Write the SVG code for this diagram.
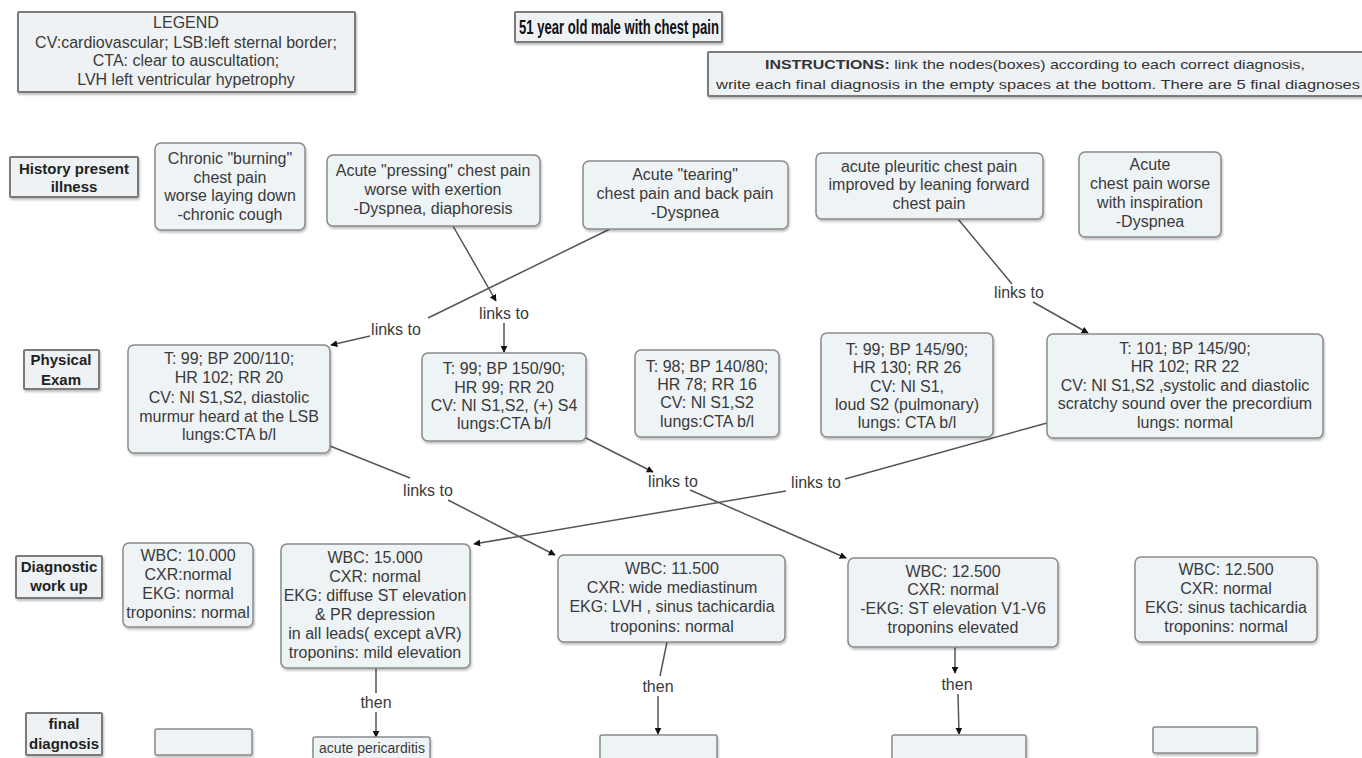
<svg xmlns="http://www.w3.org/2000/svg" width="1362" height="758" viewBox="0 0 1362 758">
<defs>
<filter id="sh" x="-10%" y="-10%" width="130%" height="140%"><feDropShadow dx="1" dy="2" stdDeviation="1.2" flood-color="#000" flood-opacity="0.25"/></filter>
<marker id="ah" viewBox="0 0 10 10" refX="9" refY="5" markerWidth="7" markerHeight="7" orient="auto" markerUnits="userSpaceOnUse"><path d="M0,0 L10,5 L0,10 z" fill="#111"/></marker>
</defs>
<style>
.n{fill:#eef3f6;stroke:#8a8a8a;stroke-width:1.5;filter:url(#sh)}
.r{fill:#eef2f4;stroke:#7a7a7a;stroke-width:2;filter:url(#sh)}
.t{font-family:"Liberation Sans",Arial,sans-serif;font-size:16px;fill:#3a3a3a;text-anchor:middle}
.b{font-family:"Liberation Sans",Arial,sans-serif;font-size:15px;font-weight:bold;fill:#222;text-anchor:middle}
.c{fill:none;stroke:#555;stroke-width:1.5}
.a{marker-end:url(#ah)}
.l{font-family:"Liberation Sans",Arial,sans-serif;font-size:16px;fill:#3a3a3a;text-anchor:middle}
</style>
<rect width="1362" height="758" fill="#fff"/>

<g id="legend">
<rect class="r" x="18" y="12" width="337" height="80" rx="1"/>
<text class="t" x="186" y="28">LEGEND</text>
<text class="t" x="186" y="48">CV:cardiovascular; LSB:left sternal border;</text>
<text class="t" x="186" y="66">CTA: clear to auscultation;</text>
<text class="t" x="186" y="85">LVH left ventricular hypetrophy</text>
</g>

<g id="title">
<rect class="r" x="515" y="12" width="207" height="30" rx="1"/>
<text x="519" y="34" textLength="200" lengthAdjust="spacingAndGlyphs" style="font-family:'Liberation Sans',Arial,sans-serif;font-size:20px;font-weight:bold;fill:#111">51 year old male with chest pain</text>
</g>

<g id="instructions">
<rect class="r" x="708" y="52" width="660" height="44" rx="1"/>
<text x="765" y="69" textLength="540" lengthAdjust="spacingAndGlyphs" style="font-family:'Liberation Sans',Arial,sans-serif;font-size:13px;fill:#333"><tspan font-weight="bold">INSTRUCTIONS:</tspan> link the nodes(boxes) according to each correct diagnosis,</text>
<text x="716" y="89" textLength="644" lengthAdjust="spacingAndGlyphs" style="font-family:'Liberation Sans',Arial,sans-serif;font-size:13px;fill:#333">write each final diagnosis in the empty spaces at the bottom. There are 5 final diagnoses</text>
</g>

<g id="row-hpi">
<rect class="r" x="10" y="157" width="128" height="40" rx="1"/>
<text class="b" x="74" y="174">History present</text>
<text class="b" x="74" y="192">illness</text>
</g>
<g id="row-pe">
<rect class="r" x="24" y="350" width="75" height="39" rx="1"/>
<text class="b" x="61" y="365">Physical</text>
<text class="b" x="61" y="385">Exam</text>
</g>
<g id="row-dx">
<rect class="r" x="16" y="556" width="86" height="42" rx="1"/>
<text class="b" x="59" y="572">Diagnostic</text>
<text class="b" x="59" y="591">work up</text>
</g>
<g id="row-final">
<rect class="r" x="26" y="713" width="76" height="42" rx="1"/>
<text class="b" x="64" y="729">final</text>
<text class="b" x="64" y="749">diagnosis</text>
</g>

<g id="connectors">
<path class="c a" d="M453,226 L496,301"/>
<text class="l" x="504" y="319">links to</text>
<path class="c a" d="M504,323 L504,352"/>

<path class="c" d="M610,229 L428,318"/>
<text class="l" x="396" y="335">links to</text>
<path class="c a" d="M370,336 L331,345"/>

<path class="c" d="M958,219 L1012,284"/>
<text class="l" x="1019" y="298">links to</text>
<path class="c a" d="M1033,302 L1088,333"/>

<path class="c" d="M330,446 L410,478"/>
<text class="l" x="428" y="496">links to</text>
<path class="c a" d="M448,500 L555,555"/>

<path class="c a" d="M586,438 L653,472"/>
<text class="l" x="673" y="487">links to</text>
<path class="c a" d="M690,490 L846,558"/>

<path class="c" d="M1047,423 L845,479"/>
<text class="l" x="816" y="488">links to</text>
<path class="c a" d="M786,491 L474,544"/>

<path class="c" d="M376,668 L376,693"/>
<text class="l" x="376" y="708">then</text>
<path class="c a" d="M376,712 L376,737"/>

<path class="c" d="M667,642 L660,676"/>
<text class="l" x="658" y="692">then</text>
<path class="c a" d="M658,696 L658,734"/>

<path class="c a" d="M955,647 L955,673"/>
<text class="l" x="957" y="690">then</text>
<path class="c a" d="M958,694 L959,734"/>
</g>

<g id="hpi1">
<rect class="n" x="155" y="143" width="150" height="87" rx="6"/>
<text class="t" x="230" y="164">Chronic "burning"</text>
<text class="t" x="230" y="183">chest pain</text>
<text class="t" x="230" y="201">worse laying down</text>
<text class="t" x="230" y="220">-chronic cough</text>
</g>
<g id="hpi2">
<rect class="n" x="327" y="155" width="213" height="71" rx="6"/>
<text class="t" x="433" y="176">Acute "pressing" chest pain</text>
<text class="t" x="433" y="195">worse with exertion</text>
<text class="t" x="433" y="214">-Dyspnea, diaphoresis</text>
</g>
<g id="hpi3">
<rect class="n" x="583" y="161" width="205" height="68" rx="6"/>
<text class="t" x="685" y="180">Acute "tearing"</text>
<text class="t" x="685" y="199">chest pain and back pain</text>
<text class="t" x="685" y="218">-Dyspnea</text>
</g>
<g id="hpi4">
<rect class="n" x="816" y="153" width="227" height="66" rx="6"/>
<text class="t" x="929" y="172">acute pleuritic chest pain</text>
<text class="t" x="929" y="190">improved by leaning forward</text>
<text class="t" x="929" y="209">chest pain</text>
</g>
<g id="hpi5">
<rect class="n" x="1079" y="152" width="142" height="85" rx="6"/>
<text class="t" x="1150" y="170">Acute</text>
<text class="t" x="1150" y="189">chest pain worse</text>
<text class="t" x="1150" y="208">with inspiration</text>
<text class="t" x="1150" y="227">-Dyspnea</text>
</g>

<g id="pe1">
<rect class="n" x="128" y="345" width="202" height="108" rx="6"/>
<text class="t" x="229" y="364">T: 99; BP 200/110;</text>
<text class="t" x="229" y="383">HR 102; RR 20</text>
<text class="t" x="229" y="403">CV: Nl S1,S2, diastolic</text>
<text class="t" x="229" y="422">murmur heard at the LSB</text>
<text class="t" x="229" y="440">lungs:CTA b/l</text>
</g>
<g id="pe2">
<rect class="n" x="422" y="353" width="164" height="88" rx="6"/>
<text class="t" x="504" y="374">T: 99; BP 150/90;</text>
<text class="t" x="504" y="393">HR 99; RR 20</text>
<text class="t" x="504" y="411">CV: Nl S1,S2, (+) S4</text>
<text class="t" x="504" y="429">lungs:CTA b/l</text>
</g>
<g id="pe3">
<rect class="n" x="635" y="350" width="144" height="87" rx="6"/>
<text class="t" x="707" y="372">T: 98; BP 140/80;</text>
<text class="t" x="707" y="390">HR 78; RR 16</text>
<text class="t" x="707" y="408">CV: Nl S1,S2</text>
<text class="t" x="707" y="427">lungs:CTA b/l</text>
</g>
<g id="pe4">
<rect class="n" x="821" y="333" width="172" height="104" rx="6"/>
<text class="t" x="907" y="355">T: 99; BP 145/90;</text>
<text class="t" x="907" y="373">HR 130; RR 26</text>
<text class="t" x="907" y="392">CV: Nl S1,</text>
<text class="t" x="907" y="410">loud S2  (pulmonary)</text>
<text class="t" x="907" y="428">lungs: CTA b/l</text>
</g>
<g id="pe5">
<rect class="n" x="1047" y="334" width="276" height="104" rx="6"/>
<text class="t" x="1185" y="354">T: 101; BP 145/90;</text>
<text class="t" x="1185" y="372">HR 102; RR 22</text>
<text class="t" x="1185" y="391">CV: Nl S1,S2 ,systolic and diastolic</text>
<text class="t" x="1185" y="409">scratchy sound over the precordium</text>
<text class="t" x="1185" y="428">lungs: normal</text>
</g>

<g id="dx1">
<rect class="n" x="123" y="543" width="130" height="84" rx="6"/>
<text class="t" x="188" y="561">WBC: 10.000</text>
<text class="t" x="188" y="580">CXR:normal</text>
<text class="t" x="188" y="599">EKG: normal</text>
<text class="t" x="188" y="618">troponins: normal</text>
</g>
<g id="dx2">
<rect class="n" x="281" y="544" width="189" height="124" rx="6"/>
<text class="t" x="375" y="563">WBC: 15.000</text>
<text class="t" x="375" y="582">CXR: normal</text>
<text class="t" x="375" y="601">EKG: diffuse ST elevation</text>
<text class="t" x="375" y="620">&amp; PR depression</text>
<text class="t" x="375" y="639">in all leads( except aVR)</text>
<text class="t" x="375" y="658">troponins: mild elevation</text>
</g>
<g id="dx3">
<rect class="n" x="558" y="555" width="227" height="87" rx="6"/>
<text class="t" x="672" y="574">WBC: 11.500</text>
<text class="t" x="672" y="593">CXR: wide mediastinum</text>
<text class="t" x="672" y="612">EKG: LVH , sinus tachicardia</text>
<text class="t" x="672" y="632">troponins: normal</text>
</g>
<g id="dx4">
<rect class="n" x="848" y="558" width="210" height="89" rx="6"/>
<text class="t" x="953" y="577">WBC: 12.500</text>
<text class="t" x="953" y="595">CXR: normal</text>
<text class="t" x="953" y="614">-EKG: ST elevation  V1-V6</text>
<text class="t" x="953" y="633">troponins elevated</text>
</g>
<g id="dx5">
<rect class="n" x="1135" y="557" width="182" height="85" rx="6"/>
<text class="t" x="1226" y="575">WBC: 12.500</text>
<text class="t" x="1226" y="594">CXR: normal</text>
<text class="t" x="1226" y="613">EKG: sinus tachicardia</text>
<text class="t" x="1226" y="632">troponins: normal</text>
</g>

<g id="final1"><rect class="n" x="155" y="729" width="97" height="26" rx="2"/></g>
<g id="final2">
<rect class="n" x="313" y="737" width="117" height="26" rx="2"/>
<text class="t" x="372" y="753" style="font-size:14px">acute pericarditis</text>
</g>
<g id="final3"><rect class="n" x="600" y="735" width="117" height="28" rx="2"/></g>
<g id="final4"><rect class="n" x="892" y="735" width="134" height="28" rx="2"/></g>
<g id="final5"><rect class="n" x="1153" y="727" width="104" height="26" rx="2"/></g>
</svg>
